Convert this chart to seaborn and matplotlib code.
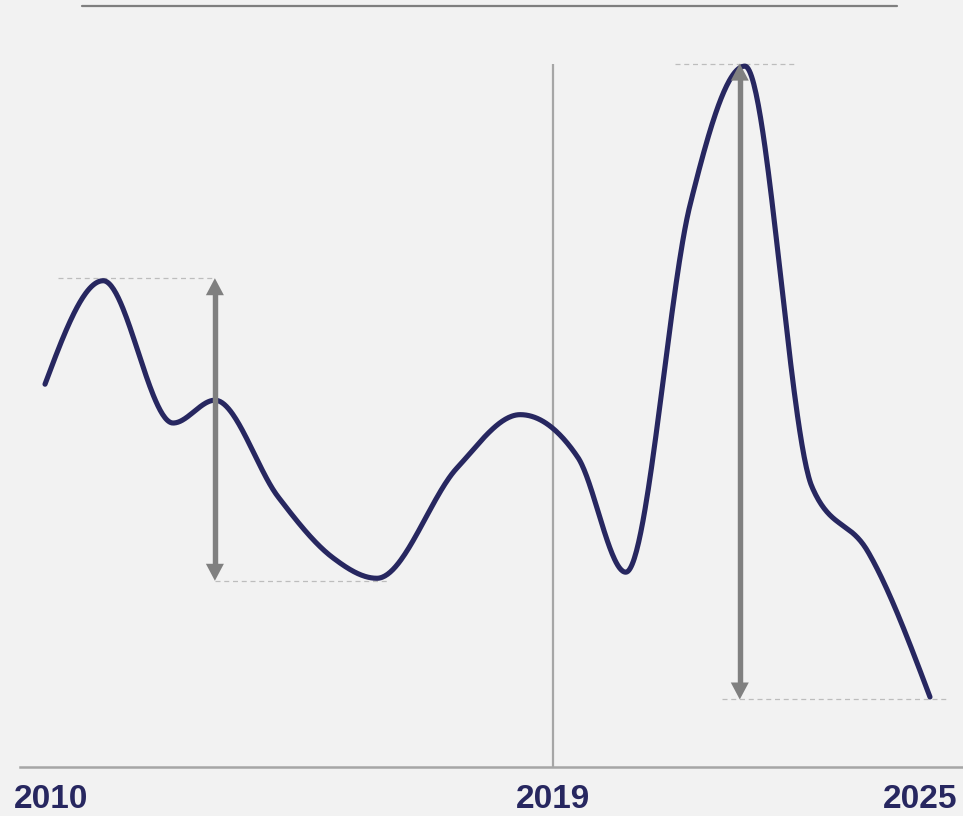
import numpy as np
import pandas as pd
import matplotlib
matplotlib.use("Agg")
import matplotlib.pyplot as plt
import seaborn as sns
from matplotlib import transforms

# Observations (decimal year, index value)
years = [2010.00, 2011.03, 2012.27, 2013.01, 2014.13, 2015.10, 2015.88, 2017.30,
         2018.42, 2019.44, 2020.29, 2021.43, 2022.40, 2023.59, 2024.58, 2025.68]
values = [50.3, 63.9, 45.2, 48.2, 35.5, 27.5, 24.8, 39.3,
          46.3, 40.7, 25.6, 73.9, 92.1, 36.8, 28.3, 9.2]

tick_labels = ["2010", "2019", "2025"]
tick_positions = [2010.1, 2019.0, 2025.5]
marker_year = 2019.0

# Range arrows: (x, from value, to value)
arrow_early = (years[3], values[1], min(values[:8]))
arrow_late = (2022.31, max(values), values[-1])

# Dashed guide lines: (value, x start, x end)
guides = [
    (values[1], 2010.23, years[3]),
    (min(values[:8]), years[3], 2016.08),
    (max(values), 2021.16, 2023.32),
    (values[-1], 2021.99, 2026.0),
]

NAVY = "#272760"
BG = "#f2f2f2"
ARROW = "#808080"
EDGE = 0.33  # half the curve stroke, in value units


def monotone_curve(x, y, n=60):
    """Monotone cubic (Fritsch-Carlson / d3 monotoneX) path through the points."""
    x = np.asarray(x, float)
    y = np.asarray(y, float)
    h = np.diff(x)
    s = np.diff(y) / h
    m = np.zeros_like(y)
    for i in range(1, len(x) - 1):
        p = (s[i - 1] * h[i] + s[i] * h[i - 1]) / (h[i - 1] + h[i])
        m[i] = (np.sign(s[i - 1]) + np.sign(s[i])) * min(abs(s[i - 1]), abs(s[i]), 0.5 * abs(p))
    m[0] = (3 * s[0] - m[1]) / 2
    m[-1] = (3 * s[-1] - m[-2]) / 2
    xs, ys = [], []
    for i in range(len(x) - 1):
        t = np.linspace(0, 1, n, endpoint=(i == len(x) - 2))
        h00 = 2 * t**3 - 3 * t**2 + 1
        h10 = t**3 - 2 * t**2 + t
        h01 = -2 * t**3 + 3 * t**2
        h11 = t**3 - t**2
        xs.append(x[i] + t * h[i])
        ys.append(h00 * y[i] + h10 * h[i] * m[i] + h01 * y[i + 1] + h11 * h[i] * m[i + 1])
    return np.concatenate(xs), np.concatenate(ys)


sns.set_theme(style="white")
plt.rcParams["font.family"] = ["Liberation Sans", "DejaVu Sans"]

fig = plt.figure(figsize=(9.63, 8.16), dpi=100, facecolor=BG)
ax = fig.add_axes([20 / 963, 49 / 816, 943 / 963, 761 / 816])
ax.set_facecolor(BG)

cx, cy = monotone_curve(years, values)
curve = pd.DataFrame({"year": cx, "value": cy})
sns.lineplot(data=curve, x="year", y="value", ax=ax, color=NAVY, linewidth=3.7,
             sort=False, estimator=None, solid_capstyle="round", zorder=3)

ax.set_xlim(2009.557, 2026.265)
ax.set_ylim(0, 100)

# pixel size in data units, for arrowheads drawn as filled triangles
p0 = ax.transData.inverted().transform((0, 0))
p1 = ax.transData.inverted().transform((1, 1))
px_x, px_y = p1[0] - p0[0], p1[1] - p0[1]

# marker line for 2019
ax.vlines(marker_year, 0, max(values) + EDGE, color="#a6a6a6", linewidth=1.6, zorder=1)

# decorative rule across the top
ax.axhline(100, xmin=0.0657, xmax=0.930, color="#7f7f7f", linewidth=1.6, clip_on=False)

for yv, x0, x1 in guides:
    off = EDGE if yv >= 60 else -EDGE
    ax.plot([x0, x1], [yv + off, yv + off], color="#bdbdbd", linewidth=0.9,
            linestyle=(0, (4, 3)), zorder=1)

head_w, head_h = 9 * px_x, 17 * px_y
for ax_x, y_from, y_to in (arrow_early, arrow_late):
    top, bot = y_from + EDGE, y_to - EDGE
    ax.plot([ax_x, ax_x], [top - head_h * 0.9, bot + head_h * 0.9],
            color=ARROW, linewidth=3.9, solid_capstyle="butt", zorder=4)
    ax.fill([ax_x - head_w, ax_x + head_w, ax_x], [top - head_h, top - head_h, top],
            color=ARROW, linewidth=0, zorder=4)
    ax.fill([ax_x - head_w, ax_x + head_w, ax_x], [bot + head_h, bot + head_h, bot],
            color=ARROW, linewidth=0, zorder=4)

for sp in ("top", "left", "right"):
    ax.spines[sp].set_visible(False)
ax.spines["bottom"].set_color("#a6a6a6")
ax.spines["bottom"].set_linewidth(1.8)
ax.set_xticks([])
ax.set_yticks([])
ax.set_xlabel("")
ax.set_ylabel("")

trans = transforms.blended_transform_factory(ax.transData, fig.transFigure)
for pos, lab in zip(tick_positions, tick_labels):
    ax.text(pos, 1 / 816, lab, transform=trans, ha="center", va="bottom",
            fontsize=24, fontweight="bold", color=NAVY, clip_on=False)

fig.savefig("out.png", dpi=100, facecolor=BG)
